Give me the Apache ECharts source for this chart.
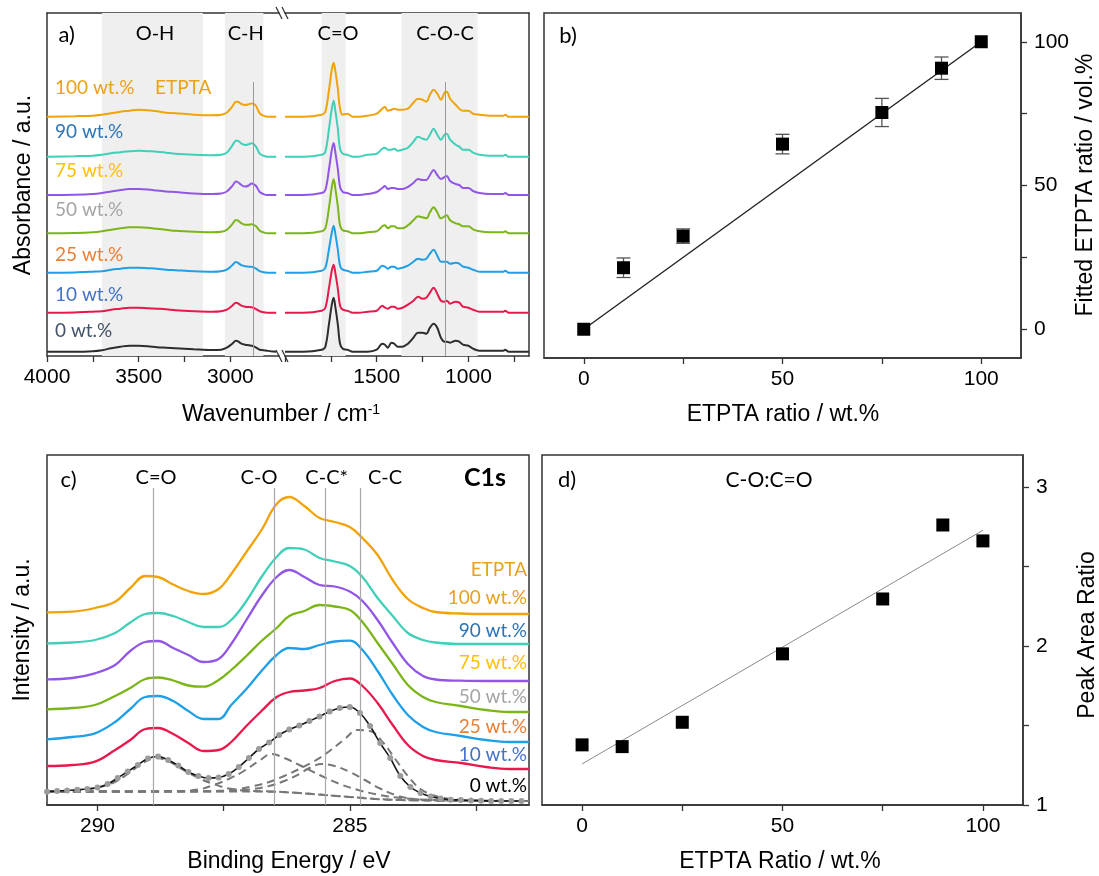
<!DOCTYPE html>
<html><head><meta charset="utf-8">
<script src="https://cdn.jsdelivr.net/npm/echarts@6/dist/echarts.min.js"></script>
<style>html,body{margin:0;padding:0;background:#fff}#c{width:1099px;height:876px}</style>
</head><body><div id="c"></div>
<script>
// ---------------- Panel a: FTIR spectra (heights above each trace's baseline) ----------------
const irSamples = ['0 wt.%','10 wt.%','25 wt.%','50 wt.%','75 wt.%','90 wt.%','100 wt.%'];
const irOffsets = [4.3, 43.3, 83.3, 122.7, 161, 199.3, 239.3];
const irLeftWn = [4000,3850,3750,3700,3650,3600,3550,3500,3450,3400,3350,3300,3200,3100,3050,3020,2990,2970,2960,2940,2920,2900,2885,2875,2860,2840,2820,2800,2780,2750];
const ir0L   = [0,0,0.5,1.5,3.5,5,6,6,5.5,4.5, 4,3.5,2.5,1.7,2,4,8,11,10.5,8, 7,6.5,6,5.5,4,2,1.5,1,0.5,0];
const ir10L  = [0,0.3,1,1.5,3,4,5,5,4.5,4, 3.5,2.5,1.5,1,1.5,3,7,10,9.5,7, 6,5.7,5.5,5,3.5,1.5,0.5,0,0,0];
const ir25L  = [0,0.3,1,1.5,3,4,5,5,4.5,4, 3,2.5,1.5,1,1.5,3,7.5,10.7,10,7.5, 6.5,6,6,5.5,4,1.5,0.5,0,0,0];
const ir50L  = [0,0.3,1,2,3.5,5,6,6,5.5,4.5, 3.5,2.5,1.5,1,1.5,3.5,9,13.4,13,10, 8.5,8.5,9,8.7,7,2.5,1,0,0,0];
const ir75L  = [0,0.3,1,2,3.5,5,6,6,5.5,4.5, 3.5,3,1.5,1,1.5,3.5,9,13.4,13,10, 8.4,9.5,11.4,11,9,3,1,0,0,0];
const ir90L  = [0,0.5,1,2,3.5,4.5,5.5,6,5.5,5, 4,3,2,1.5,2,4,11,16,16,13, 11.7,12.5,13.4,13,10,3,1,0,0,0];
const ir100L = [0,0.5,1,2,3.5,5,6,7,6.5,5.5, 4,3.5,2,1.5,2,4,10,15,15,12.7, 11.7,12.5,13.3,13,10.7,3.3,1,0,0,0];
const irRightWn = [2000,1900,1800,1780,1760,1745,1735,1725,1712,1700, 1685,1660,1630,1600,1550,1500,1470,1455,1440,1420, 1405,1385,1360,1330,1300,1275,1250,1230,1210,1190, 1170,1150,1130,1118,1100,1070,1050,1030,1000,975, 940,880,810,800,780,700,670];
const ir0R   = [0,0,2,5,28,47,54,44,27,8, 3,2,0,0,0,2,8,7,4,9, 8,5,5,8,14,19,19,18,24,28, 24,14,10,10,9,11,10,7,6,3, 1,1,1,2,0,0,0];
const ir10R  = [0,0,2,5,25,42,48,39,24,7, 3,2,0,0,1,2,7,5,4,6, 6,4,5,8,12,16,14,15,20,25, 19,12,11,12,9,11,10,6,5,3, 1,1,1,2,0,0,0];
const ir25R  = [0,0,2,5,24,40,47,38,23,7, 3,2,0,0,1,2,7,6,4,6, 6,4,5,7,11,14,13,14,19,23, 17,11,11,11,9,10,9,6,5,3, 1,1,1,2,0,0,0];
const ir50R  = [0,0,2,5,26,46,54,44,27,8, 3,2,0,0,1,2,7,8,5,7, 7,5,5,8,13,17,16,15,21,26, 21,15,17,18,13,10,9,7,7,4, 2,1,1,2,0,0,0];
const ir75R  = [0,0,2,5,26,45,52,42,26,8, 3,2,0,0,1,3,7,9,6,7, 7,6,6,8,12,16,15,15,20,25, 20,16,18,19,14,11,10,7,7,4, 2,1,1,2,0,0,0];
const ir90R  = [0,0,2,5,28,48,56,45,28,8, 3,2,0,0,2,3,8,9,7,7, 8,6,7,9,15,20,18,17,22,28, 22,17,22,23,17,12,10,7,7,4, 2,1,1,2,0,0,0];
const ir100R = [0,0,2,5,27,47,54,45,28,8, 2,3,0,0,1,3,8,10,6,7, 8,7,7,8,14,18,17,15,22,27, 23,17,24,25,18,12,8,6,6,3, 2,1,1,2,0,0,0];
const irBandsLeft = [[3700,3150],[3030,2820]];
const irBandsRight = [[1800,1670],[1365,950]];
const irGuideLeft = 2875, irGuideRight = 1125, irGuideTop = 274;

// ---------------- Panel b ----------------
const bX = [0,10,25,50,75,90,100];
const bY = [0,21.4,32.4,64.4,75.4,90.8,100];
const bErr = [0,3.4,2.5,3.4,4.9,3.9,0];
const bFit = [[0,0],[100,100]];

// ---------------- Panel c: XPS C1s ----------------
const xpsBE = [291.0,290.5,290.05,289.65,289.35,289.05,288.8,288.5,288.2,287.9, 287.6,287.35,287.05,286.75,286.45,286.2,285.9,285.6,285.3,285.0, 284.75,284.45,284.15,283.85,283.55,283.3,282.8,282.3,281.85,281.45];
const c100 = [192.7,193.3,197,203.3,217,229,228,220.5,214,211, 216,231,253,275,301,308,299,287,283,278, 267,250,225,206,197,193,191.5,191,191,191];
const c90  = [161.7,162.5,165,172,182.5,191,192,189,183,178, 178,185,204,228,248,257,255.5,247,243.5,239, 228,207,189,172,165,162.5,161,161,161,161];
const c75  = [125.7,127,131.7,140,154,163,164,157,150,143, 146,161,185,209,228,235,228,220,218.5,213.5, 204,185,162,141,129,125.5,124.3,124,124,124];
const c50  = [95.7,97,100,109,117,126,127.5,124.5,119.5,118.3, 125,135,149,164,177,189,194,200,198.5,195, 183,162,141,120,108,103,99,95,93,93];
const c25  = [65.7,68,71.7,83,96,108,109,104,94,86, 86,100,116,134,150,157,156,160,163.5,164.3, 155,134,110,90,78,73,69,65,63,63];
const c10  = [39,40,43.3,55,65,76,77,71,62,54, 55,63,79,94,108,113,114.5,117,124,126.5, 119,102,80,60,49,45,42,38,36,36];
const c0BE = [291.0,290.8,290.6,290.4,290.2,290.0,289.8,289.6,289.4,289.2, 289.0,288.8,288.6,288.4,288.2,288.0,287.8,287.6,287.4,287.2, 287.0,286.8,286.6,286.4,286.2,286.0,285.8,285.6,285.4,285.2, 285.0,284.8,284.6,284.4,284.2,284.0,283.8,283.6,283.4,283.2, 283.0,282.8,282.6,282.4,282.2,282.0,281.8,281.6];
const c0 = [13.3,14,14.6,15.2,16,17.5,21,27,33.5,40, 46.5,48.5,45,39.5,33,29,27,27.5,31,38, 47,56,62.5,70,75.5,79.5,84,88.5,93.5,97, 98,92,79,62,47,29,18,12,8.5,6.5, 5.3,5,4.6,4.3,4,4,4,4];
const fitBgBE = [291.0,287.0,286.5,286.0,285.5,285.0,284.5,284.0,283.0,281.45];
const fitBg   = [13.5,13.5,13.2,12,10,8,6,5,4.2,4];
const fitCdOBE = [291.0,290.5,290.0,289.7,289.4,289.1,288.85,288.6,288.3,288.0,287.7,287.4,287.0,286.5,286.0,285.0,284.0,281.45];
const fitCdO   = [13.5,14.5,17.5,22,31,42,47,44,35,27,21,16.5,14.2,13.5,12,8,5,4];
const fitCOBE = [291.0,288.5,288.0,287.7,287.4,287.1,286.8,286.55,286.3,286.0,285.6,285.2,284.8,284.4,284.0,283.0,281.45];
const fitCO   = [13.5,13.6,15.5,20,26,34,44,51,47,40,30,21,14.5,10,7,4.5,4];
const fitCCsBE = [291.0,287.5,287.0,286.6,286.3,286.0,285.8,285.55,285.3,285.0,284.7,284.4,284.1,283.8,283.3,282.5,281.45];
const fitCCs   = [13.5,13.8,15.5,19,24,31,37,41,39,33,25,16.5,10,6.5,4.8,4.2,4];
const fitCCBE = [291.0,288.0,287.5,287.2,286.9,286.6,286.3,286.0,285.7,285.4,285.1,284.85,284.6,284.35,284.1,283.85,283.6,283.3,283.0,282.5,281.45];
const fitCC   = [13.5,13.6,14.5,16,19,23,29,36,44,54,66,75,74,63,46,29,16,9,6,4.5,4];
const xpsGuides = [288.9, 286.49, 285.49, 284.79];
const xpsGuideTop = 317;

// ---------------- Panel d ----------------
const dX = [0,10,25,50,75,90,100];
const dY = [1.378,1.367,1.52,1.95,2.295,2.76,2.66];
const dFit = [[0,1.258],[100,2.727]];

// ---------------- styling ----------------
const FONT_AX = "'Liberation Sans', Arial, sans-serif";
const FONT_LB = "Lato, 'Open Sans', sans-serif";
const AXC = '#333';
const lineColors = ['#2d2d2d','#E8184C','#1E9FE6','#7CB518','#9256E6','#40D0B8','#F0A30A'];
const labelColors = ['#44546A','#4472C4','#ED7D31','#A5A5A5','#FFC000','#2E75B6','#E9A21C'];
const plain = v => String(v);

function xAx(grid, min, max, inverse, ticks, labels, pos) {
  return {type:'value', gridIndex:grid, min, max, inverse, position:pos||'bottom',
    axisLine:{show:true, onZero:false, lineStyle:{color:AXC, width:1.5}},
    axisTick: ticks ? {show:true, inside:false, length:6, customValues:ticks, lineStyle:{color:AXC, width:1.3}} : {show:false},
    axisLabel: labels ? {show:true, customValues:labels, formatter:plain, margin:11, fontFamily:FONT_AX, fontSize:21, color:'#000'} : {show:false},
    splitLine:{show:false}};
}
function yAx(grid, min, max, pos, showLine, ticks, labels) {
  return {type:'value', gridIndex:grid, min, max, position:pos,
    axisLine:{show:showLine, onZero:false, lineStyle:{color:AXC, width:1.5}},
    axisTick: ticks ? {show:true, inside:false, length:6, customValues:ticks, lineStyle:{color:AXC, width:1.3}} : {show:false},
    axisLabel: labels ? {show:true, customValues:labels, formatter:plain, margin:13, fontFamily:FONT_AX, fontSize:21, color:'#000'} : {show:false},
    splitLine:{show:false}};
}
const pair = (xs, ys) => xs.map((x, i) => [x, ys[i]]);

const series = [];
series.push({type:'line', xAxisIndex:0, yAxisIndex:0, data:[], z:1, silent:true,
  markArea:{silent:true, itemStyle:{color:'#efefef'}, data:irBandsLeft.map(b => [{xAxis:b[0]},{xAxis:b[1]}])},
  markLine:{silent:true, symbol:'none', label:{show:false}, lineStyle:{color:'#9a9a9a', width:1, type:'solid'},
    data:[[{coord:[irGuideLeft, irGuideTop]},{coord:[irGuideLeft, 0]}]]}});
series.push({type:'line', xAxisIndex:1, yAxisIndex:1, data:[], z:1, silent:true,
  markArea:{silent:true, itemStyle:{color:'#efefef'}, data:irBandsRight.map(b => [{xAxis:b[0]},{xAxis:b[1]}])},
  markLine:{silent:true, symbol:'none', label:{show:false}, lineStyle:{color:'#9a9a9a', width:1, type:'solid'},
    data:[[{coord:[irGuideRight, irGuideTop]},{coord:[irGuideRight, 0]}]]}});
const irL = [ir0L, ir10L, ir25L, ir50L, ir75L, ir90L, ir100L];
const irR = [ir0R, ir10R, ir25R, ir50R, ir75R, ir90R, ir100R];
irSamples.forEach((name, k) => {
  series.push({type:'line', name, xAxisIndex:0, yAxisIndex:0, data: irLeftWn.map((w,i) => [w, irL[k][i] + irOffsets[k]]),
    showSymbol:false, smooth:0.35, lineStyle:{color:lineColors[k], width:2}, z:3, silent:true});
  series.push({type:'line', name, xAxisIndex:1, yAxisIndex:1, data: irRightWn.map((w,i) => [w, irR[k][i] + irOffsets[k]]),
    showSymbol:false, smooth:0.35, lineStyle:{color:lineColors[k], width:2}, z:3, silent:true});
});

// panel b
series.push({type:'custom', xAxisIndex:4, yAxisIndex:2, z:4, silent:true,
  data: bX.map((x,i) => [x, bY[i], bErr[i]]),
  renderItem(params, api) {
    const x = api.value(0), y = api.value(1), e = api.value(2);
    if (!e) return null;
    const t = api.coord([x, y + e]), b = api.coord([x, y - e]);
    const hw = 7, st = {stroke:'#555', lineWidth:1.3};
    return {type:'group', children:[
      {type:'line', shape:{x1:t[0], y1:t[1], x2:b[0], y2:b[1]}, style:st},
      {type:'line', shape:{x1:t[0]-hw, y1:t[1], x2:t[0]+hw, y2:t[1]}, style:st},
      {type:'line', shape:{x1:b[0]-hw, y1:b[1], x2:b[0]+hw, y2:b[1]}, style:st}]};
  }});
series.push({type:'line', xAxisIndex:4, yAxisIndex:2, data:bFit, showSymbol:false, lineStyle:{color:'#222', width:1.4}, z:3, silent:true});
series.push({type:'scatter', xAxisIndex:4, yAxisIndex:2, data:pair(bX, bY), symbol:'rect', symbolSize:13, itemStyle:{color:'#000', opacity:1}, z:6, silent:true});

// panel c
series.push({type:'line', xAxisIndex:5, yAxisIndex:3, data:[], z:1, silent:true,
  markLine:{silent:true, symbol:'none', label:{show:false}, lineStyle:{color:'#a8a8a8', width:1.2, type:'solid'},
    data: xpsGuides.map(g => [{coord:[g, xpsGuideTop]},{coord:[g, 0]}])}});
const xpsSets = [c10, c25, c50, c75, c90, c100];
xpsSets.forEach((arr, k) => {
  series.push({type:'line', xAxisIndex:5, yAxisIndex:3, data:pair(xpsBE, arr), showSymbol:false, smooth:0.4,
    lineStyle:{color:lineColors[k+1], width:2.3}, z:3, silent:true});
});
[[fitBgBE, fitBg],[fitCdOBE, fitCdO],[fitCOBE, fitCO],[fitCCsBE, fitCCs],[fitCCBE, fitCC]].forEach(f => {
  series.push({type:'line', xAxisIndex:5, yAxisIndex:3, data:pair(f[0], f[1]), showSymbol:false, smooth:0.4,
    lineStyle:{color:'#777', width:2, type:[8,5]}, z:3, silent:true});
});
series.push({type:'line', xAxisIndex:5, yAxisIndex:3, data:pair(c0BE, c0), smooth:0.4, showSymbol:true, showAllSymbol:true,
  symbol:'circle', symbolSize:6, itemStyle:{color:'#9b9b9b', borderWidth:0, opacity:1}, lineStyle:{color:'#151515', width:1.6}, z:4, silent:true});

// panel d
series.push({type:'line', xAxisIndex:6, yAxisIndex:4, data:dFit, showSymbol:false, lineStyle:{color:'#8a8a8a', width:1}, z:3, silent:true});
series.push({type:'scatter', xAxisIndex:6, yAxisIndex:4, data:pair(dX, dY), symbol:'rect', symbolSize:13, itemStyle:{color:'#000', opacity:1}, z:6, silent:true});

function txt(x, y, text, st, rot) {
  const el = {type:'text', x, y, silent:true, z:100,
    style:Object.assign({text, fill:'#000', fontSize:20, fontFamily:FONT_LB, align:'center', verticalAlign:'middle'}, st||{})};
  if (rot) el.rotation = rot;
  return el;
}
function seg(x1,y1,x2,y2){ return {type:'line', silent:true, z:100, shape:{x1,y1,x2,y2}, style:{stroke:AXC, lineWidth:1.3}}; }
const AXT = {fontFamily:FONT_AX, fontSize:23};
const irLabelY = [331, 294.5, 255, 210, 171, 132, 88];
const xpsLabels = ['10 wt.%','25 wt.%','50 wt.%','75 wt.%','90 wt.%','100 wt.%'];
const xpsLabelY = [755, 726.5, 696.5, 662.5, 631, 598.3];

const graphics = [
  txt(66.7, 35, 'a)', {fontSize:22}),
  txt(155, 34, 'O-H'), txt(245.7, 34, 'C-H'), txt(338, 34, 'C=O'), txt(445, 34, 'C-O-C'),
  txt(155, 88, 'ETPTA', {fill:labelColors[6], fontSize:19, align:'left'}),
  txt(23.4, 185, 'Absorbance / a.u.', AXT, Math.PI/2),
  txt(281, 415, 'Wavenumber / cm{s|-1}', Object.assign({rich:{s:{fontSize:14, fontFamily:FONT_AX, verticalAlign:'top'}}}, AXT)),
  seg(276, 7, 282, 19), seg(282, 7, 288, 19),
  seg(276, 350, 282, 362), seg(282, 350, 288, 362),
  txt(568, 36, 'b)', {fontSize:22}),
  txt(783, 415, 'ETPTA ratio / wt.%', AXT),
  txt(1086, 185, 'Fitted ETPTA ratio / vol.%', AXT, Math.PI/2),
  txt(68.5, 480, 'c)', {fontSize:22}),
  txt(156, 477.5, 'C=O'), txt(259, 477.5, 'C-O'), txt(326.7, 477.5, 'C-C*'), txt(385, 477.5, 'C-C'),
  txt(485, 477.5, 'C1s', {fontWeight:'bold', fontSize:25}),
  txt(527, 569.5, 'ETPTA', {fill:labelColors[6], fontSize:19, align:'right'}),
  txt(527, 785.5, '0 wt.%', {fill:'#000', fontSize:19, align:'right'}),
  txt(23, 630, 'Intensity / a.u.', AXT, Math.PI/2),
  txt(289, 862, 'Binding Energy / eV', AXT),
  txt(567, 480, 'd)', {fontSize:22}),
  txt(769, 480, 'C-O:C=O', {fontSize:21}),
  txt(780, 862, 'ETPTA Ratio / wt.%', AXT),
  txt(1088, 635, 'Peak Area Ratio', AXT, Math.PI/2)
];
irSamples.forEach((s, k) => graphics.push(txt(55, irLabelY[k], s, {fill:labelColors[k], fontSize:19, align:'left'})));
xpsLabels.forEach((s, k) => graphics.push(txt(527, xpsLabelY[k], s, {fill:labelColors[k+1], fontSize:19, align:'right'})));

const boxed = {show:true, borderColor:AXC, borderWidth:1.5, backgroundColor:'transparent'};
const option = {
  animation:false,
  grid:[
    {left:47, top:13, width:232, height:343},
    {left:285, top:13, width:244, height:343},
    Object.assign({left:544, top:13, width:477, height:345}, boxed),
    Object.assign({left:47, top:455, width:482, height:350}, boxed),
    Object.assign({left:542, top:455, width:481, height:350}, boxed)
  ],
  xAxis:[
    xAx(0, 2735, 4000, true, [4000,3750,3500,3250,3000], [4000,3500,3000]),
    xAx(1, 670, 2000, true, [2000,1750,1500,1250,1000,750], [1500,1000]),
    xAx(0, 2735, 4000, true, null, null, 'top'),
    xAx(1, 670, 2000, true, null, null, 'top'),
    xAx(2, -10, 110, false, [0,25,50,75,100], [0,50,100]),
    xAx(3, 281.45, 291.0, true, [290,287.5,285,282.5], [290,285]),
    xAx(4, -10, 110, false, [0,25,50,75,100], [0,50,100])
  ],
  yAxis:[
    yAx(0, 0, 343, 'left', true),
    yAx(1, 0, 343, 'right', true),
    yAx(2, -10, 110, 'right', true, [0,25,50,75,100], [0,50,100]),
    yAx(3, 0, 350, 'left', false),
    yAx(4, 1, 3.2, 'right', true, [1,1.5,2,2.5,3], [1,2,3])
  ],
  series,
  graphic:{elements:graphics}
};
const chart = echarts.init(document.getElementById('c'), null, {renderer:'canvas'});
chart.setOption(option);
</script></body></html>
